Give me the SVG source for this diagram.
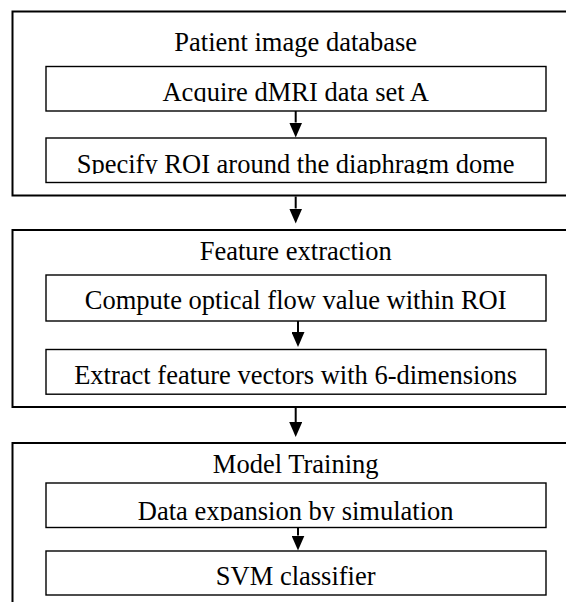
<svg xmlns="http://www.w3.org/2000/svg" width="566" height="602" viewBox="0 0 566 602">
  <defs>
    <style>
      .outer { fill: none; stroke: #000; stroke-width: 2; }
      .inner { fill: #fff; stroke: #000; stroke-width: 1.4; }
      .label { font-family: "Liberation Serif", "Times New Roman", serif; font-size: 26.5px; fill: #000; text-anchor: middle; }
      .link { stroke: #000; stroke-width: 2; fill: none; marker-end: url(#head); }
    </style>
    <marker id="head" markerUnits="userSpaceOnUse" markerWidth="15" markerHeight="13" refX="0" refY="6.5" orient="auto">
      <path d="M0,0 L15,6.5 L0,13 z" fill="#000"/>
    </marker>
    <!-- text frames that cut off descenders just below the baseline -->
    <clipPath id="clip-acquire"><rect x="46" y="67" width="500" height="35"/></clipPath>
    <clipPath id="clip-specify"><rect x="46" y="139" width="500" height="35"/></clipPath>
    <clipPath id="clip-expansion"><rect x="46" y="484" width="500" height="37"/></clipPath>
  </defs>

  <rect width="566" height="602" fill="#fff"/>

  <!-- Stage 1 -->
  <g id="patient-image-database">
    <rect class="outer" x="12.5" y="11.5" width="580" height="184"/>
    <text class="label" x="295.7" y="50.7">Patient image database</text>
  </g>
  <g id="acquire-dmri">
    <rect class="inner" x="46" y="66.5" width="500" height="44.5"/>
    <text class="label" x="295.7" y="100.7" clip-path="url(#clip-acquire)">Acquire dMRI data set A</text>
  </g>
  <g id="specify-roi">
    <rect class="inner" x="46" y="138" width="500" height="44.5"/>
    <text class="label" x="295.7" y="172.7" clip-path="url(#clip-specify)">Specify ROI around the diaphragm dome</text>
  </g>

  <!-- Stage 2 -->
  <g id="feature-extraction">
    <rect class="outer" x="12.5" y="230" width="580" height="177"/>
    <text class="label" x="295.7" y="260">Feature extraction</text>
  </g>
  <g id="compute-optical-flow">
    <rect class="inner" x="46" y="275" width="500" height="46"/>
    <text class="label" x="295.7" y="309.3">Compute optical flow value within ROI</text>
  </g>
  <g id="extract-feature-vectors">
    <rect class="inner" x="46" y="349.5" width="500" height="44.7"/>
    <text class="label" x="295.7" y="384">Extract feature vectors with 6-dimensions</text>
  </g>

  <!-- Stage 3 -->
  <g id="model-training">
    <rect class="outer" x="12.5" y="443" width="580" height="200"/>
    <text class="label" x="295.7" y="473.3">Model Training</text>
  </g>
  <g id="data-expansion">
    <rect class="inner" x="46" y="483" width="500" height="44.5"/>
    <text class="label" x="295.7" y="520" clip-path="url(#clip-expansion)">Data expansion by simulation</text>
  </g>
  <g id="svm-classifier">
    <rect class="inner" x="46" y="551" width="500" height="44"/>
    <text class="label" x="295.7" y="585">SVM classifier</text>
  </g>

  <!-- Connectors -->
  <g id="connectors">
    <line class="link" x1="295.7" y1="111" x2="295.7" y2="122.5"/>
    <line class="link" x1="295.7" y1="196.5" x2="295.7" y2="208.5"/>
    <line class="link" x1="298" y1="321" x2="298" y2="332"/>
    <line class="link" x1="295.7" y1="408" x2="295.7" y2="422"/>
    <line class="link" x1="298" y1="527.5" x2="298" y2="535.5"/>
  </g>
</svg>
